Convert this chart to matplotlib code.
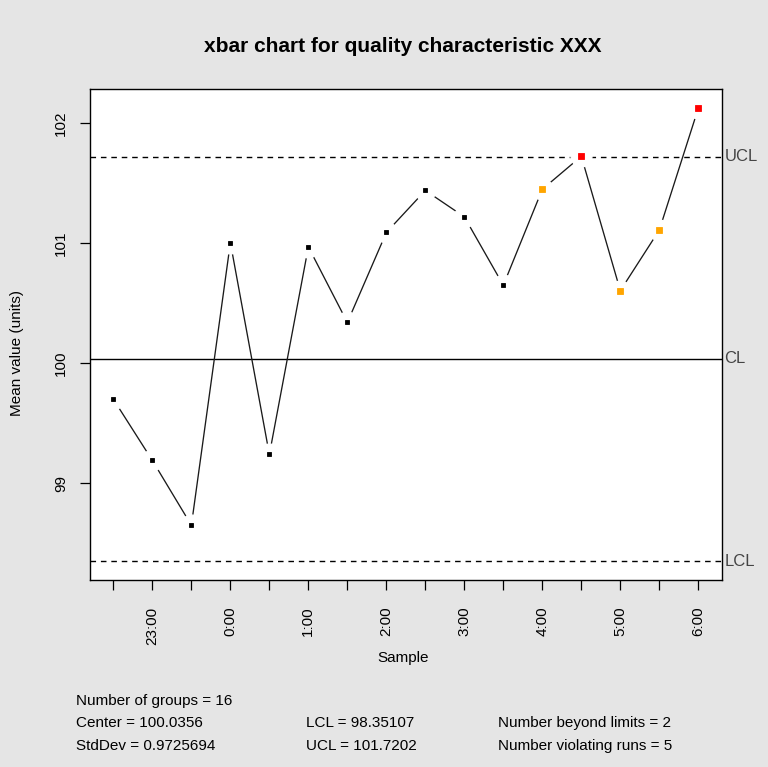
import matplotlib

matplotlib.use("Agg")
import matplotlib.pyplot as plt

plt.rcParams["font.family"] = ["Liberation Sans", "DejaVu Sans"]

# xbar values, one per sample group
means = [99.70, 99.19, 98.65, 101.005, 99.24, 100.97, 100.34, 101.09,
         101.44, 101.22, 100.65, 101.45, 101.725, 100.605, 101.11, 102.125]
# point status: 0 = ok, 1 = violating run, 2 = beyond limits
status = [0, 0, 0, 0, 0, 0, 0, 0, 0, 0, 0, 1, 2, 1, 1, 2]
tick_labels = ["", "23:00", "", "0:00", "", "1:00", "", "2:00",
               "", "3:00", "", "4:00", "", "5:00", "", "6:00"]

center = 100.0356
lcl = 98.35107
ucl = 101.7202
std_dev = 0.9725694
n_beyond = 2
n_runs = 5

W, H = 768, 767
fig = plt.figure(figsize=(W / 100, H / 100), dpi=100, facecolor="#e5e5e5")
ax = fig.add_axes([90 / W, 1 - 580 / H, (721.7 - 90) / W, (580 - 89.3) / H])
ax.set_facecolor("white")

x = list(range(1, len(means) + 1))
ax.plot(x, means, color="#1a1a1a", linewidth=0.95, zorder=2)
# white halos make the gaps between line and points, as in R's type="b"
ax.plot(x, means, linestyle="none", marker="o", markersize=15,
        markerfacecolor="white", markeredgecolor="white", zorder=3)
colors = {0: "black", 1: "orange", 2: "red"}
for xi, yi, s in zip(x, means, status):
    size = 3.0 if s == 0 else 4.0
    ax.plot(xi, yi, linestyle="none", marker="s", markersize=size,
            color=colors[s], markeredgewidth=0.6, zorder=4)

ax.axhline(center, color="black", linewidth=1.0, zorder=1)
for lim in (lcl, ucl):
    ax.axhline(lim, color="black", linewidth=1.0, linestyle=(0, (4, 3.5)), zorder=1)

ax.set_xlim(0.4, 16.6)
ax.set_ylim(98.194, 102.283)
ax.set_xticks(x)
ax.set_xticklabels(tick_labels, rotation=90, fontsize=11)
ax.set_yticks([99, 100, 101, 102])
ax.set_yticklabels(["99", "100", "101", "102"], rotation=90, va="center", fontsize=11)
ax.tick_params(direction="out", length=7, width=0.9)
ax.tick_params(axis="x", pad=12)
ax.tick_params(axis="y", pad=9)
for sp in ax.spines.values():
    sp.set_linewidth(1.0)

for val, name in ((ucl, "UCL"), (center, "CL"), (lcl, "LCL")):
    ax.text(16.67, val, name, va="center", ha="left", fontsize=12,
            color="#444444", clip_on=False)

fig.text(403 / W, 1 - 46 / H, "xbar chart for quality characteristic XXX",
         ha="center", va="center", fontsize=15, fontweight="bold")
fig.text(403 / W, 1 - 658 / H, "Sample", ha="center", va="center", fontsize=11)
fig.text(17 / W, 1 - 353 / H, "Mean value (units)", ha="center", va="center",
         rotation=90, fontsize=11)

stats_rows = [
    [(76, f"Number of groups = {len(means)}")],
    [(76, f"Center = {center}"), (306, f"LCL = {lcl}"),
     (498, f"Number beyond limits = {n_beyond}")],
    [(76, f"StdDev = {std_dev}"), (306, f"UCL = {ucl}"),
     (498, f"Number violating runs = {n_runs}")],
]
for row_y, row in zip((701, 723, 746), stats_rows):
    for col_x, txt in row:
        fig.text(col_x / W, 1 - row_y / H, txt, ha="left", va="center", fontsize=11)

fig.savefig("out.png", dpi=100, facecolor=fig.get_facecolor())
